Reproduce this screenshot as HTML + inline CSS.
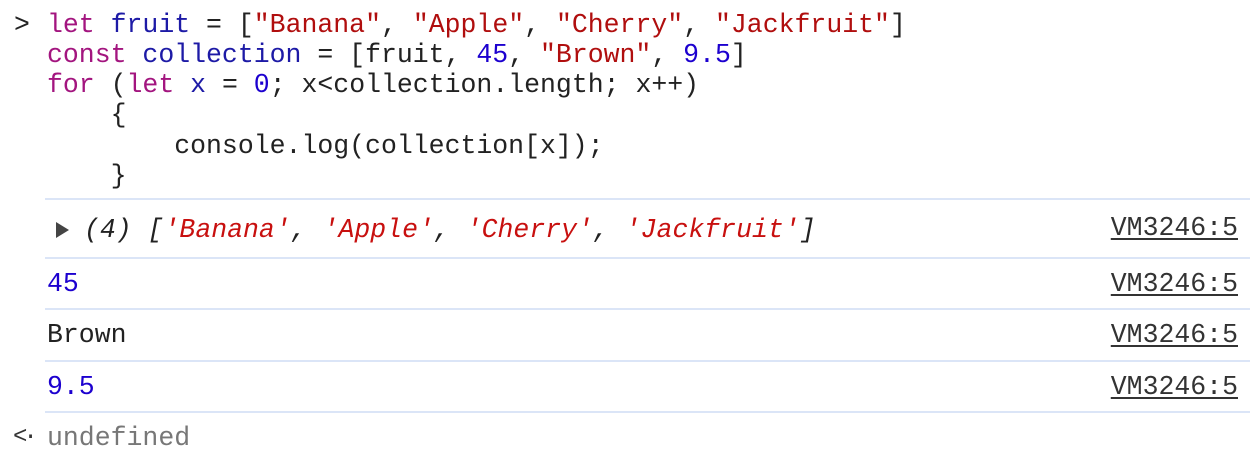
<!DOCTYPE html>
<html><head><style>
body{margin:0;width:1250px;height:464px;background:#fff;position:relative;overflow:hidden;font-family:"Liberation Mono",monospace;font-size:26.5px;color:#222}
.l{position:absolute;white-space:pre;line-height:30px;height:30px}
.k{color:#a3157f}.v{color:#1d1aa6}.s{color:#b00e0e}.n{color:#1c00cf}
.sep{position:absolute;left:45px;right:0;height:2px;background:#dbe5f7}
.r{position:absolute;right:12px;white-space:pre;line-height:30px;color:#333;text-decoration:underline;text-underline-offset:3px}
i{font-style:italic}
.is{color:#c8100f}
</style></head><body>
<div class="l" style="left:14px;top:10px">&gt;</div>
<div class="l" style="left:47px;top:10px"><span class="k">let</span> <span class="v">fruit</span> = [<span class="s">"Banana"</span>, <span class="s">"Apple"</span>, <span class="s">"Cherry"</span>, <span class="s">"Jackfruit"</span>]</div>
<div class="l" style="left:47px;top:40px"><span class="k">const</span> <span class="v">collection</span> = [fruit, <span class="n">45</span>, <span class="s">"Brown"</span>, <span class="n">9.5</span>]</div>
<div class="l" style="left:47px;top:70px"><span class="k">for</span> (<span class="k">let</span> <span class="v">x</span> = <span class="n">0</span>; x&lt;collection.length; x++)</div>
<div class="l" style="left:47px;top:100px">    {</div>
<div class="l" style="left:47px;top:131px">        console.log(collection[x]);</div>
<div class="l" style="left:47px;top:161px">    }</div>
<div class="sep" style="top:198px"></div>
<svg style="position:absolute;left:56px;top:222px" width="14" height="16"><polygon points="0,0 13,8 0,16" fill="#444"/></svg>
<div class="l" style="left:84px;top:215px"><i>(4) [<span class="is">'Banana'</span>, <span class="is">'Apple'</span>, <span class="is">'Cherry'</span>, <span class="is">'Jackfruit'</span>]</i></div>
<div class="r" style="top:213px">VM3246:5</div>
<div class="sep" style="top:257px"></div>
<div class="l n" style="left:47px;top:269px">45</div>
<div class="r" style="top:269px">VM3246:5</div>
<div class="sep" style="top:308px"></div>
<div class="l" style="left:47px;top:320px">Brown</div>
<div class="r" style="top:320px">VM3246:5</div>
<div class="sep" style="top:360px"></div>
<div class="l n" style="left:47px;top:372px">9.5</div>
<div class="r" style="top:372px">VM3246:5</div>
<div class="sep" style="top:411px"></div>
<div class="l" style="left:13px;top:423px;color:#333;font-size:24px;letter-spacing:-4px">&lt;·</div>
<div class="l" style="left:47px;top:423px;color:#777">undefined</div>
</body></html>
